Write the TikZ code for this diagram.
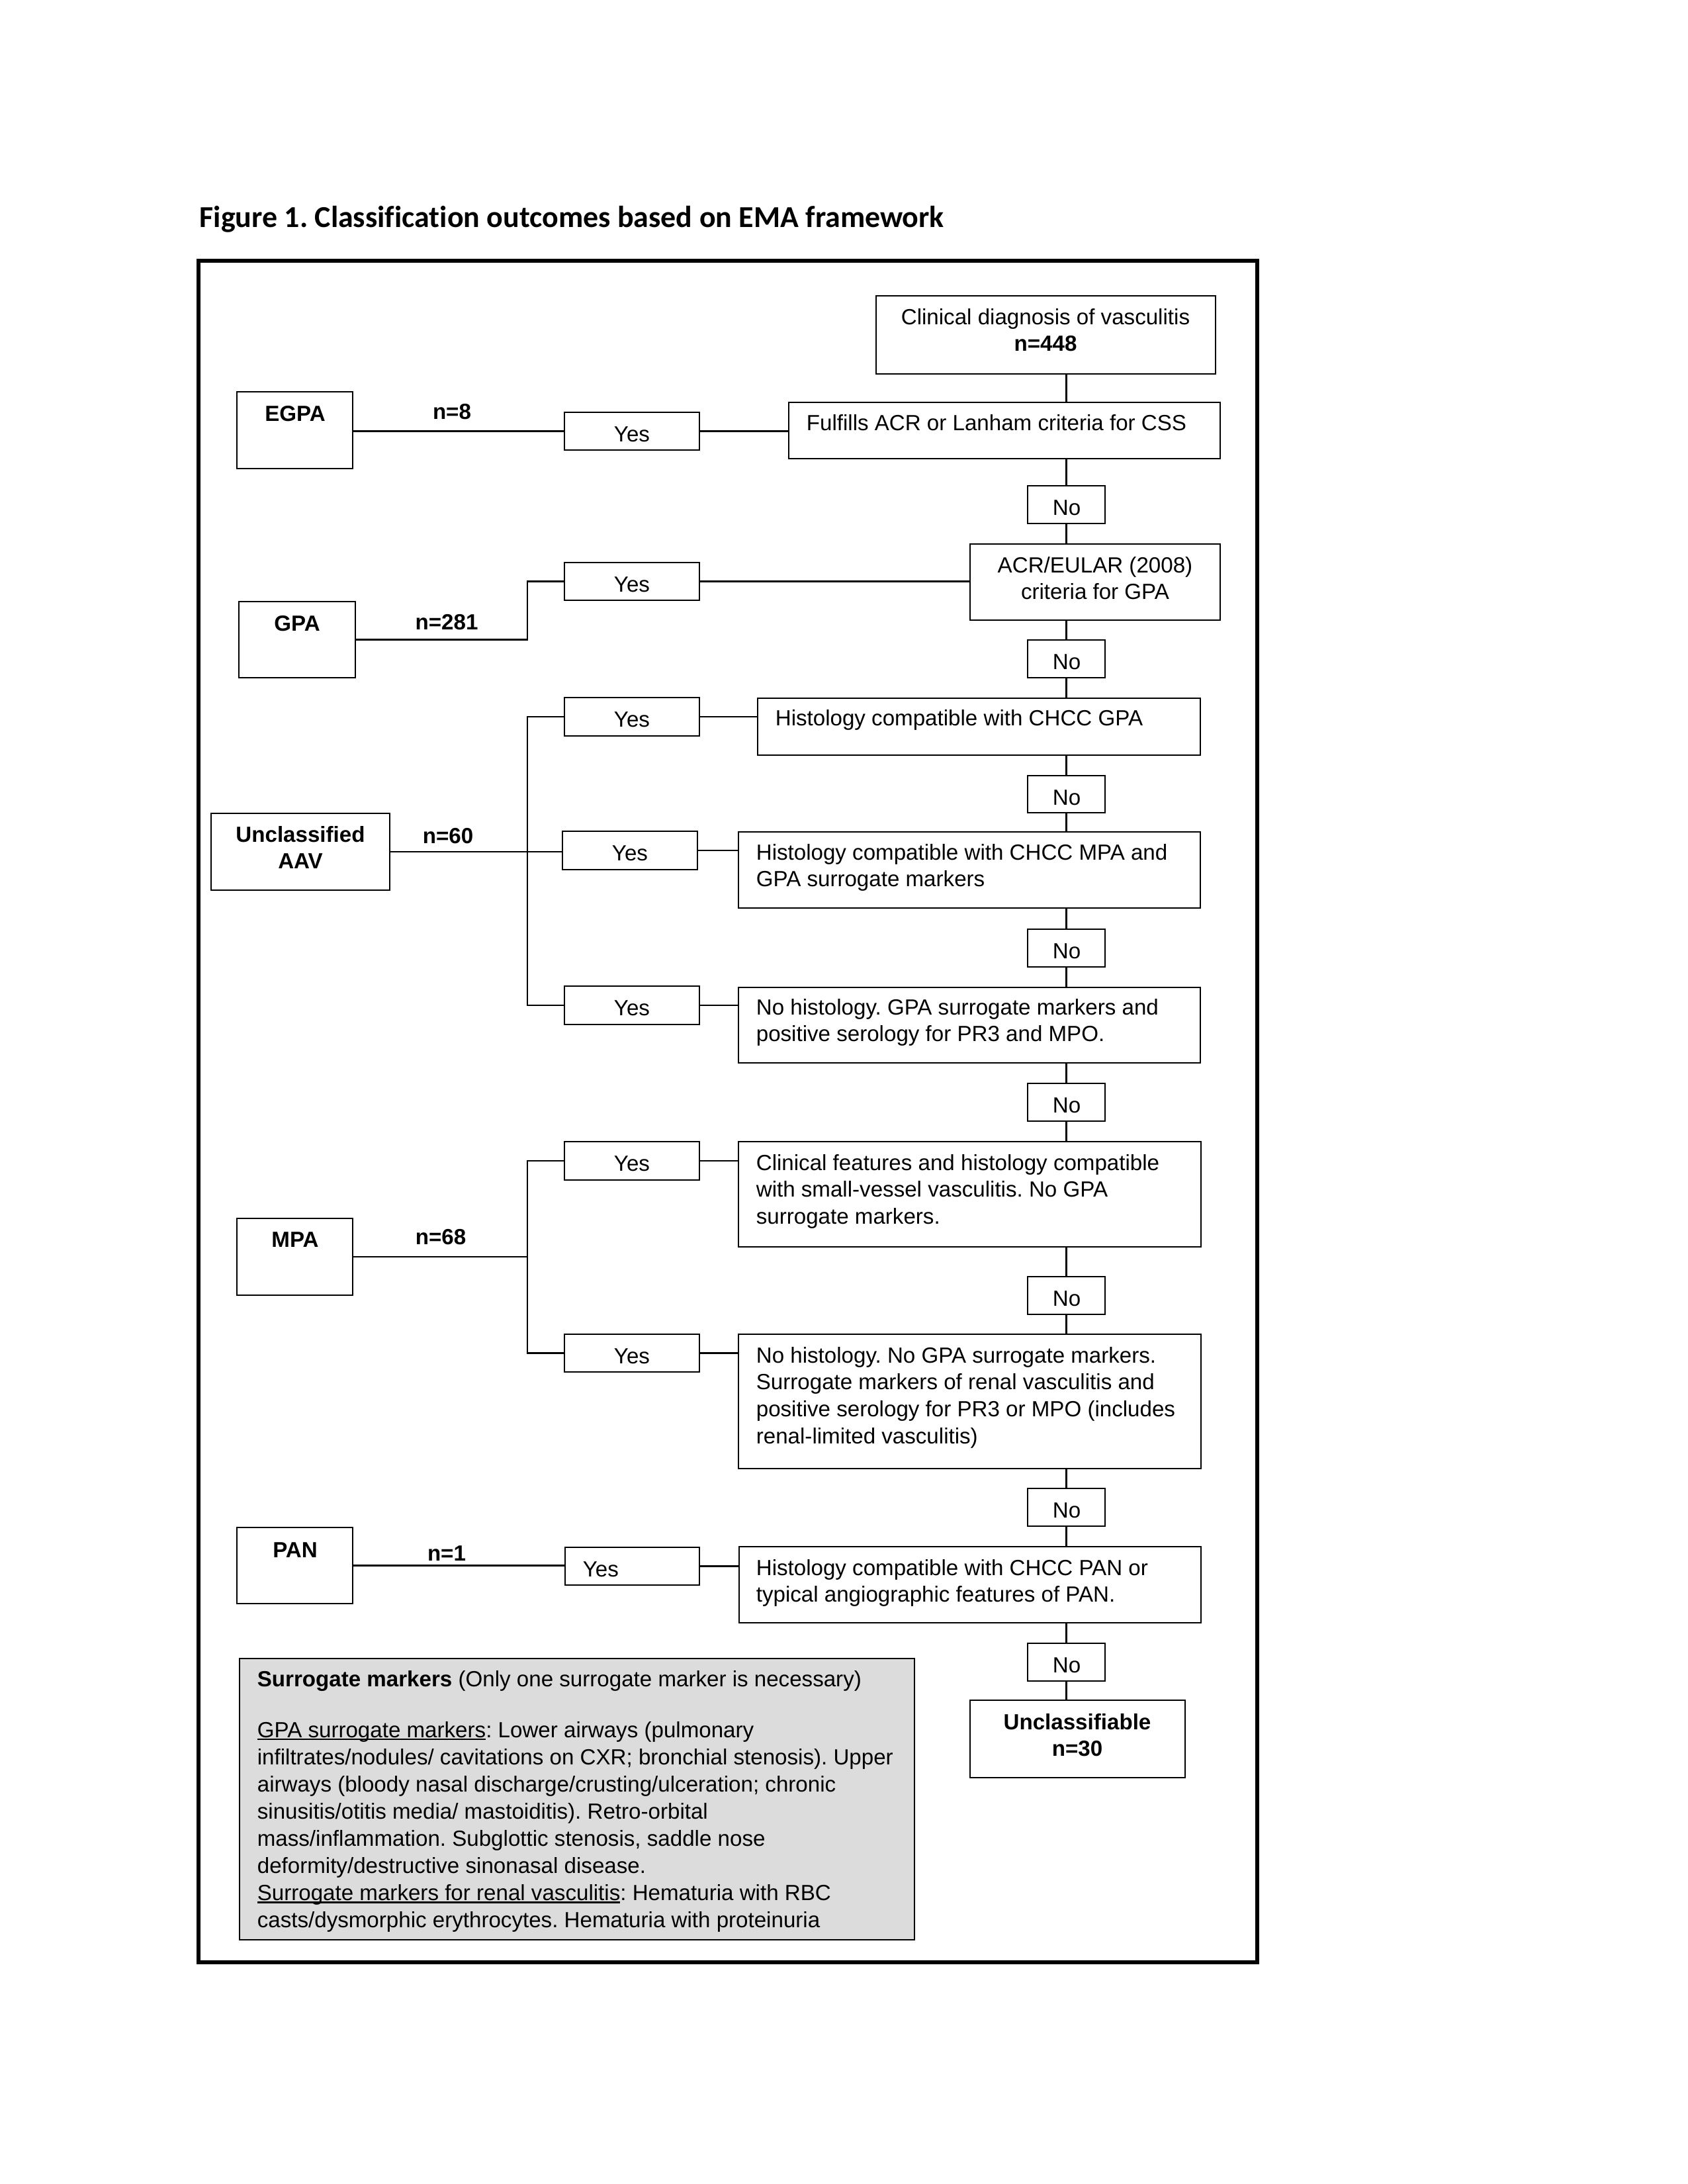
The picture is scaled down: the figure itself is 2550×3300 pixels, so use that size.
\documentclass[tikz,border=0pt]{standalone}
\usepackage{fontspec}
\setmainfont{Liberation Sans}[Ligatures=NoCommon]
\newfontfamily\titlefont{Carlito}[Ligatures=NoCommon]
\usepackage{graphicx}
\usetikzlibrary{fit}
\newdimen\px \px=0.24pt
\definecolor{smgray}{RGB}{220,220,220}
\newsavebox\ulbox
\newcommand\myul[1]{\leavevmode\sbox\ulbox{#1}\rlap{\rule[-1.0pt]{\wd\ulbox}{0.55pt}}\usebox\ulbox}
\frenchspacing
\tikzset{
  bx/.style={draw, line width=0.6pt, inner sep=0pt, fill=white},
  conn/.style={line width=0.6pt},
  txt/.style={inner sep=0pt, font=\fontsize{7.95}{9.8}\selectfont},
  btxt/.style={txt, font=\fontsize{7.95}{9.8}\selectfont\bfseries},
}
\begin{document}
\begin{tikzpicture}[x=0.24pt, y=-0.24pt]
\useasboundingbox (0,0) rectangle (2550,3300);
% title
\node[inner sep=0pt, anchor=base west] (title) at (301,343)
  {\resizebox{270pt}{!}{\titlefont\bfseries Figure 1. Classification outcomes based on EMA framework}};
% frame
\node[draw, line width=1.32pt, inner sep=0pt, fit={(300,394) (1900,2965)}] (frame) {};
% right column boxes
\node[bx, fit={(1324,447) (1837,565)}] (clin) {};
\node[bx, fit={(1192,608) (1844,693)}] (ful) {};
\node[bx, fit={(1466,822) (1844,937)}] (acr) {};
\node[bx, fit={(1145,1055) (1814,1141)}] (hgpa) {};
\node[bx, fit={(1116,1257) (1814,1372)}] (hmpa) {};
\node[bx, fit={(1116,1492) (1814,1606)}] (nohist) {};
\node[bx, fit={(1116,1725) (1815,1884)}] (cf) {};
\node[bx, fit={(1116,2016) (1815,2219)}] (nhng) {};
\node[bx, fit={(1117,2337) (1815,2452)}] (hpan) {};
\node[bx, fit={(1466,2569) (1791,2686)}] (uncl) {};
% No boxes
\node[bx, fit={(1553,734) (1670,791)}] (no1) {};
\node[bx, fit={(1553,967) (1670,1024)}] (no2) {};
\node[bx, fit={(1553,1172) (1670,1228)}] (no3) {};
\node[bx, fit={(1553,1404) (1670,1461)}] (no4) {};
\node[bx, fit={(1553,1637) (1670,1694)}] (no5) {};
\node[bx, fit={(1553,1929) (1670,1986)}] (no6) {};
\node[bx, fit={(1553,2249) (1670,2306)}] (no7) {};
\node[bx, fit={(1553,2483) (1670,2540)}] (no8) {};
% left outcome boxes
\node[bx, fit={(358,592) (533,708)}] (egpa) {};
\node[bx, fit={(361,909) (537,1024)}] (gpa) {};
\node[bx, fit={(319,1229) (589,1345)}] (aav) {};
\node[bx, fit={(358,1841) (533,1957)}] (mpa) {};
\node[bx, fit={(358,2308) (533,2423)}] (pan) {};
% Yes boxes
\node[bx, fit={(853,623) (1057,680)}] (y1) {};
\node[bx, fit={(853,850) (1057,907)}] (y2) {};
\node[bx, fit={(853,1054) (1057,1112)}] (y3) {};
\node[bx, fit={(850,1256) (1054,1314)}] (y4) {};
\node[bx, fit={(853,1490) (1057,1548)}] (y5) {};
\node[bx, fit={(853,1725) (1057,1783)}] (y6) {};
\node[bx, fit={(853,2016) (1057,2073)}] (y7) {};
\node[bx, fit={(854,2338) (1057,2395)}] (y8) {};
% surrogate markers box
\node[draw, line width=0.65pt, fill=smgray, inner sep=0pt, fit={(362,2506) (1382,2931)}] (sm) {};
\coordinate (busx) at (797,1300);
% vertical chain
\draw[conn] (no1.north |- clin.south) -- (no1.north |- ful.north);
\draw[conn] (no1.north) -- (no1.north |- ful.south);
\draw[conn] (no1.south) -- (no1.south |- acr.north);
\draw[conn] (no2.north) -- (no2.north |- acr.south);
\draw[conn] (no2.south) -- (no2.south |- hgpa.north);
\draw[conn] (no3.north) -- (no3.north |- hgpa.south);
\draw[conn] (no3.south) -- (no3.south |- hmpa.north);
\draw[conn] (no4.north) -- (no4.north |- hmpa.south);
\draw[conn] (no4.south) -- (no4.south |- nohist.north);
\draw[conn] (no5.north) -- (no5.north |- nohist.south);
\draw[conn] (no5.south) -- (no5.south |- cf.north);
\draw[conn] (no6.north) -- (no6.north |- cf.south);
\draw[conn] (no6.south) -- (no6.south |- nhng.north);
\draw[conn] (no7.north) -- (no7.north |- nhng.south);
\draw[conn] (no7.south) -- (no7.south |- hpan.north);
\draw[conn] (no8.north) -- (no8.north |- hpan.south);
\draw[conn] (no8.south) -- (no8.south |- uncl.north);
% Yes to criteria boxes
\draw[conn] (y1.east) -- (y1.east -| ful.west);
\draw[conn] (y2.east) -- (y2.east -| acr.west);
\draw[conn] (y3.east) -- (y3.east -| hgpa.west);
\draw[conn] (y4.east) -- (y4.east -| hmpa.west);
\draw[conn] (y5.east) -- (y5.east -| nohist.west);
\draw[conn] (y6.east) -- (y6.east -| cf.west);
\draw[conn] (y7.east) -- (y7.east -| nhng.west);
\draw[conn] (y8.east) -- (y8.east -| hpan.west);
% outcomes to Yes
\draw[conn] (y1.west -| egpa.east) -- (y1.west);
\draw[conn] (gpa.east) -- (gpa.east -| busx) |- (y2.west);
\draw[conn] (aav.east) -- (aav.east -| y4.west);
\draw[conn] (y3.west) -| (busx |- y5.west) -- (y5.west);
\draw[conn] (mpa.east) -- (mpa.east -| busx);
\draw[conn] (y6.west) -| (busx |- y7.west) -- (y7.west);
\draw[conn] (pan.east) -- (pan.east -| y8.west);
% texts: right column
\node[txt, anchor=base] (tclin) at (1580,490) {\parbox[t]{500\px}{\centering Clinical diagnosis of vasculitis\\\textbf{n=448}}};
\node[txt, anchor=base west] (tful) at (1218,650) {Fulfills ACR or Lanham criteria for CSS};
\node[txt, anchor=base] (tacr) at (1655,865) {\parbox[t]{370\px}{\centering ACR/EULAR (2008)\\criteria for GPA}};
\node[txt, anchor=base west] (thgpa) at (1171,1096) {Histology compatible with CHCC GPA};
\node[txt, anchor=base west] (thmpa) at (1142,1299) {\parbox[t]{700\px}{\raggedright Histology compatible with CHCC MPA and\\GPA surrogate markers}};
\node[txt, anchor=base west] (tnohist) at (1142,1533) {\parbox[t]{700\px}{\raggedright No histology. GPA surrogate markers and\\positive serology for PR3 and MPO.}};
\node[txt, anchor=base west] (tcf) at (1142,1768) {\parbox[t]{700\px}{\raggedright Clinical features and histology compatible\\with small-vessel vasculitis. No GPA\\surrogate markers.}};
\node[txt, anchor=base west] (tnhng) at (1142,2059) {\parbox[t]{700\px}{\raggedright No histology. No GPA surrogate markers.\\Surrogate markers of renal vasculitis and\\positive serology for PR3 or MPO (includes\\renal-limited vasculitis)}};
\node[txt, anchor=base west] (thpan) at (1142,2380) {\parbox[t]{700\px}{\raggedright Histology compatible with CHCC PAN or\\typical angiographic features of PAN.}};
\node[btxt, anchor=base] (tuncl) at (1628,2613) {\parbox[t]{320\px}{\centering Unclassifiable\\n=30}};
% No labels
\node[txt, anchor=base] (tno1) at (1612,778) {No};
\node[txt, anchor=base] (tno2) at (1612,1011) {No};
\node[txt, anchor=base] (tno3) at (1612,1216) {No};
\node[txt, anchor=base] (tno4) at (1612,1448) {No};
\node[txt, anchor=base] (tno5) at (1612,1681) {No};
\node[txt, anchor=base] (tno6) at (1612,1973) {No};
\node[txt, anchor=base] (tno7) at (1612,2293) {No};
\node[txt, anchor=base] (tno8) at (1612,2527) {No};
% Yes labels
\node[txt, anchor=base] (ty1) at (955,667) {Yes};
\node[txt, anchor=base] (ty2) at (955,894) {Yes};
\node[txt, anchor=base] (ty3) at (955,1098) {Yes};
\node[txt, anchor=base] (ty4) at (952,1300) {Yes};
\node[txt, anchor=base] (ty5) at (955,1534) {Yes};
\node[txt, anchor=base] (ty6) at (955,1769) {Yes};
\node[txt, anchor=base] (ty7) at (955,2060) {Yes};
\node[txt, anchor=base west] (ty8) at (880,2382) {Yes};
% outcome labels
\node[btxt, anchor=base] (tegpa) at (446,636) {EGPA};
\node[btxt, anchor=base] (tgpa) at (449,953) {GPA};
\node[btxt, anchor=base] (taav) at (454,1272) {\parbox[t]{260\px}{\centering Unclassified\\AAV}};
\node[btxt, anchor=base] (tmpa) at (446,1884) {MPA};
\node[btxt, anchor=base] (tpan) at (446,2353) {PAN};
% n labels
\node[btxt, anchor=base] (n8) at (683,633) {n=8};
\node[btxt, anchor=base] (n281) at (675,951) {n=281};
\node[btxt, anchor=base] (n60) at (677,1274) {n=60};
\node[btxt, anchor=base] (n68) at (666,1880) {n=68};
\node[btxt, anchor=base] (n1) at (675,2358) {n=1};
% surrogate marker text
\node[txt, anchor=base west] (tsm1) at (388,2548) {\textbf{Surrogate markers} (Only one surrogate marker is necessary)};
\node[txt, anchor=base west] (tsm2) at (388,2625) {\parbox[t]{990\px}{\raggedright\baselineskip=9.86pt
\myul{GPA surrogate markers}: Lower airways (pulmonary\\
infiltrates/nodules/ cavitations on CXR; bronchial stenosis). Upper\\
airways (bloody nasal discharge/crusting/ulceration; chronic\\
sinusitis/otitis media/ mastoiditis). Retro-orbital\\
mass/inflammation. Subglottic stenosis, saddle nose\\
deformity/destructive sinonasal disease.\\
\myul{Surrogate markers for renal vasculitis}: Hematuria with RBC\\
casts/dysmorphic erythrocytes. Hematuria with proteinuria}};
\end{tikzpicture}
\end{document}
